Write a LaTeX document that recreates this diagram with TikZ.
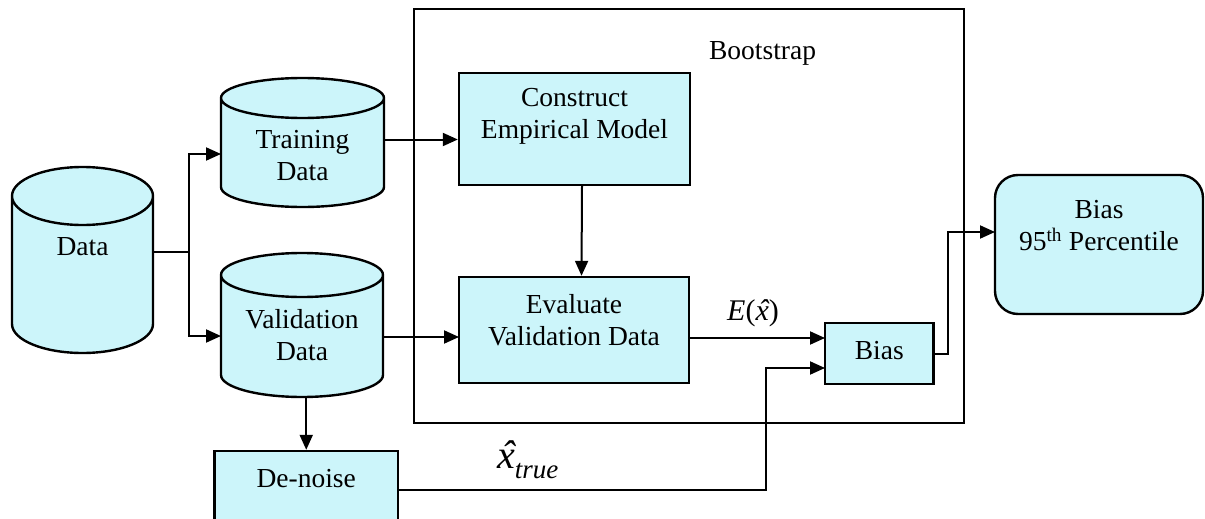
\documentclass[tikz,border=0pt]{standalone}
\usepackage{fontspec}
\setmainfont{Liberation Serif}
\usetikzlibrary{arrows.meta,calc}
\definecolor{cylfill}{RGB}{204,245,250}

% italic x with a circumflex set over it
\newcommand\hatx{\ooalign{\textit{x}\cr\hidewidth\kern0.12em\textit{\char"02C6}\hidewidth\cr}}

% cylinder outline drawn around an (invisible) named node: #1 node, #2 end-ellipse y radius
\newcommand\drawcyl[2]{%
  \filldraw[draw=black, fill=cylfill, line width=2.4pt]
    let \p1=(#1.north west), \p2=(#1.south east), \n1={(\x2-\x1)/2} in
    (\x1,\y1-#2) -- (\x1,\y2+#2)
      arc[start angle=180, end angle=360, x radius=\n1, y radius=#2]
      -- (\x2,\y1-#2)
      arc[start angle=0, end angle=180, x radius=\n1, y radius=#2] -- cycle
    (\x1,\y1-#2) arc[start angle=180, end angle=360, x radius=\n1, y radius=#2];
}

\begin{document}
\begin{tikzpicture}[x=1pt, y=-1pt,
  txt/.style={font=\fontsize{27.5}{32}\selectfont, align=center, inner sep=0pt},
  cylbox/.style={inner sep=0pt, outer sep=0pt, draw=none},
  box/.style={draw=black, fill=cylfill, line width=2.4pt, inner sep=0pt},
  ln/.style={line width=2pt},
  arr/.style={line width=2pt, -{Triangle[length=15pt, width=13pt]}}]

\fill[white] (0,0) rectangle (1205,519);
\useasboundingbox (0,0) rectangle (1205,519);

% bootstrap frame
\node[draw=black, line width=2pt, inner sep=0pt, minimum width=550.5pt, minimum height=414pt] (boot) at (688.75,216) {};
\node[txt] (boot-t) at (762.6,53) {Bootstrap};

% data stores
\node[cylbox, minimum width=141pt, minimum height=186pt] (data) at (82.5,260) {};
\node[cylbox, minimum width=163pt, minimum height=129pt] (train) at (302.5,142.5) {};
\node[cylbox, minimum width=162pt, minimum height=144pt] (valid) at (302,325) {};
\drawcyl{data}{29pt}
\drawcyl{train}{20pt}
\drawcyl{valid}{22pt}
\node[txt] (data-t) at (82.5,247) {Data};
\node[txt] (train-t) at (302.5,156) {Training\\Data};
\node[txt] (valid-t) at (302,335) {Validation\\Data};

% process boxes
\node[box, minimum width=231pt, minimum height=112pt] (cons) at (574.5,129) {};
\node[txt] (cons-t) at (574.5,116) {Construct\\Empirical Model};
\node[box, minimum width=230pt, minimum height=106pt] (eval) at (574,330) {};
\node[txt] (eval-t) at (574,320) {Evaluate\\Validation Data};
\node[box, minimum width=108.5pt, minimum height=61pt] (bias) at (879.25,353.5) {};
\node[txt] (bias-t) at (879.25,351) {Bias};
\node[box, rounded corners=23pt, minimum width=208pt, minimum height=139pt] (pct) at (1099,244.5) {};
\node[txt] (pct-t) at (1099,226) {Bias\\95\textsuperscript{th} Percentile};
\node[box, minimum width=183.5pt, minimum height=77pt] (den) at (306.25,489.5) {};
\node[txt] (den-t) at (306.25,479) {De-noise};

% connector ports
\coordinate (split) at (189,252);
\coordinate (tIn) at (221,154);
\coordinate (vIn) at (221,336);
\coordinate (eIn) at (459,337);
\coordinate (bIn1) at (825,338);
\coordinate (bIn2) at (825,368);
\coordinate (knee) at (765.5,368);
\coordinate (riser) at (948,232);
\coordinate (pIn) at (995,232);

% connectors
\draw[ln] (data.east |- split) -- (split);
\draw[arr] (split) |- (tIn);
\draw[arr] (split) |- (vIn);
\draw[arr] ([yshift=3pt]train.east) -- ([yshift=3pt]train.east -| cons.west);
\draw[arr] (valid.east |- eIn) -- (eIn);
\draw[arr] ([xshift=7.5pt]cons.south) -- ([xshift=7.5pt]eval.north);
\draw[arr] (eval.east |- bIn1) -- (bIn1);
\draw[arr] (den.north |- valid.south) -- (den.north);
\draw[arr] (den.east) -| (knee) -- (bIn2);
\draw[arr] (bias.east) -| (riser) -- (pIn);

% signal labels
\node[font=\fontsize{30}{30}\selectfont, inner sep=0pt] (ex) at (753,313) {\textit{E}(\hatx)};
\node[inner sep=0pt, anchor=base west] (xt) at (497,468)
  {{\fontsize{40}{40}\selectfont\hatx}\raisebox{-10pt}{\fontsize{27}{27}\selectfont\textit{true}}};
\end{tikzpicture}
\end{document}
